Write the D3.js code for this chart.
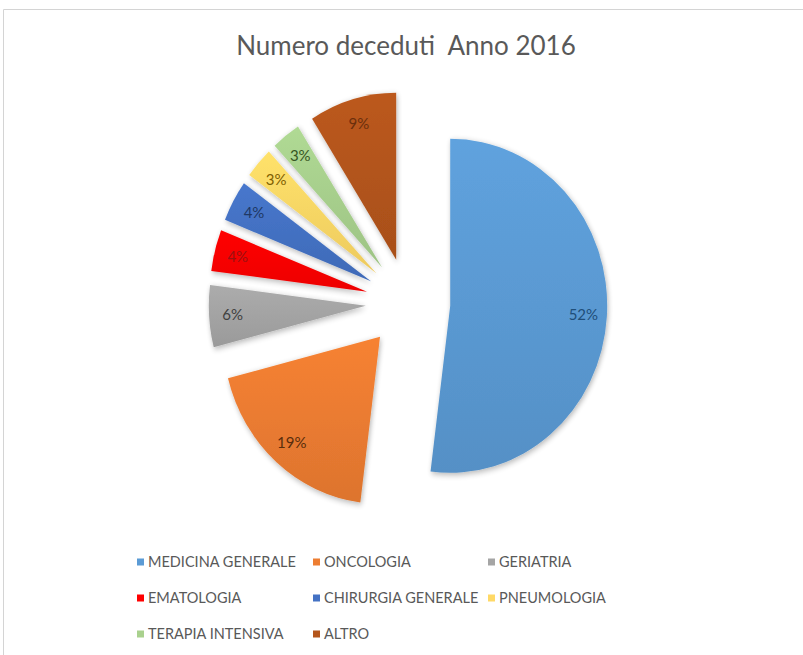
<!DOCTYPE html>
<html>
<head>
<meta charset="utf-8">
<script src="https://cdn.jsdelivr.net/npm/d3@7"></script>
<style>
  body { margin: 0; background: #fff; }
  text { font-family: Lato, "Open Sans", sans-serif; }
</style>
</head>
<body>
<div id="chart"></div>
<script>
// categories / values (percent)
var categories = ['MEDICINA GENERALE', 'ONCOLOGIA', 'GERIATRIA', 'EMATOLOGIA',
                  'CHIRURGIA GENERALE', 'PNEUMOLOGIA', 'TERAPIA INTENSIVA', 'ALTRO'];
var values = [52, 19, 6, 4, 4, 3, 3, 9];
var colors = ['#5b9bd5', '#ed7d31', '#a5a5a5', '#ff0000',
              '#4472c4', '#ffd966', '#a9d18e', '#b4551b'];
var labelColors = ['#1f4e79', '#5a2d0c', '#404040', '#9c1010',
                   '#1f3864', '#7f6000', '#375623', '#6b2f0c'];
var title = 'Numero deceduti  Anno 2016';

var width = 803, height = 655;
var cx = 408, cy = 303, radius = 167, explode = 45;
var sx = 0.94; // the picture is a bit squeezed horizontally

var svg = d3.select('#chart').append('svg')
  .attr('width', width)
  .attr('height', height);

// frame
svg.append('path')
  .attr('d', 'M3.5,' + height + 'V9.5H' + width)
  .attr('fill', 'none')
  .attr('stroke', '#d4d4d4')
  .attr('stroke-width', 1);

var defs = svg.append('defs');

var shadow = defs.append('filter')
  .attr('id', 'shadow')
  .attr('x', '-20%').attr('y', '-20%')
  .attr('width', '140%').attr('height', '140%');
shadow.append('feGaussianBlur').attr('in', 'SourceAlpha').attr('stdDeviation', 3);
shadow.append('feOffset').attr('dx', 1).attr('dy', 2).attr('result', 'blur');
shadow.append('feComponentTransfer').append('feFuncA').attr('type', 'linear').attr('slope', 0.3);
var merge = shadow.append('feMerge');
merge.append('feMergeNode');
merge.append('feMergeNode').attr('in', 'SourceGraphic');

colors.forEach(function(c, i) {
  var g = defs.append('linearGradient')
    .attr('id', 'grad' + i)
    .attr('x1', 0).attr('y1', 0).attr('x2', 0).attr('y2', 1);
  g.append('stop').attr('offset', '0%').attr('stop-color', d3.color(c).brighter(0.12));
  g.append('stop').attr('offset', '100%').attr('stop-color', d3.color(c).darker(0.2));
});

svg.append('text')
  .attr('x', 406)
  .attr('y', 55)
  .attr('text-anchor', 'middle')
  .attr('fill', '#595959')
  .attr('font-size', 26)
  .style('white-space', 'pre')
  .text(title);

var data = categories.map(function(name, i) {
  return {name: name, value: values[i], color: colors[i], label: labelColors[i], i: i};
});

var pie = d3.pie()
  .sort(null)
  .value(function(d) { return d.value; })
  .startAngle(0)
  .endAngle(2 * Math.PI);

var arc = d3.arc().innerRadius(0).outerRadius(radius);
var labelArc = d3.arc().innerRadius(radius * 0.85).outerRadius(radius * 0.85);

var arcs = pie(data);

function offset(d) {
  var a = (d.startAngle + d.endAngle) / 2;
  return [explode * Math.sin(a), -explode * Math.cos(a)];
}

var pieG = svg.append('g')
  .attr('transform', 'translate(' + cx + ',' + cy + ') scale(' + sx + ',1)');

pieG.selectAll('path.slice')
  .data(arcs)
  .enter().append('path')
    .attr('class', 'slice')
    .attr('transform', function(d) { return 'translate(' + offset(d) + ')'; })
    .attr('d', arc)
    .attr('fill', function(d) { return 'url(#grad' + d.data.i + ')'; })
    .attr('filter', 'url(#shadow)');

svg.append('g').selectAll('text')
  .data(arcs)
  .enter().append('text')
    .attr('x', function(d) { return cx + sx * (offset(d)[0] + labelArc.centroid(d)[0]); })
    .attr('y', function(d) { return cy + offset(d)[1] + labelArc.centroid(d)[1]; })
    .attr('text-anchor', 'middle')
    .attr('dy', '0.35em')
    .attr('font-size', 15)
    .attr('fill', function(d) { return d.data.label; })
    .text(function(d) { return d.data.value + '%'; });

// legend
var legendX = [137, 313, 488];
var legendY = [562, 598, 634];

var legend = svg.selectAll('g.legend')
  .data(data)
  .enter().append('g')
    .attr('class', 'legend')
    .attr('transform', function(d, i) {
      return 'translate(' + legendX[i % 3] + ',' + legendY[Math.floor(i / 3)] + ')';
    });

legend.append('rect')
  .attr('x', 0).attr('y', -3.5)
  .attr('width', 7).attr('height', 7)
  .attr('fill', function(d) { return d.color; });

legend.append('text')
  .attr('x', 11)
  .attr('dy', '0.35em')
  .attr('font-size', 14.5)
  .attr('fill', '#595959')
  .text(function(d) { return d.name; });
</script>
</body>
</html>
